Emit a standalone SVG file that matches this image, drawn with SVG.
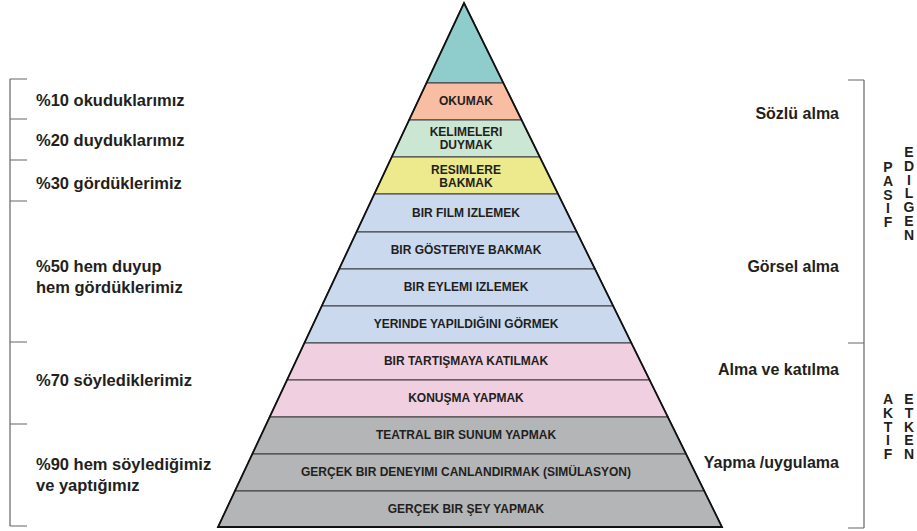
<svg xmlns="http://www.w3.org/2000/svg" width="917" height="531" viewBox="0 0 917 531">
  <style>
    text { font-family: "Liberation Sans", Arial, sans-serif; font-weight: bold; fill: #231f20; }
    .lvl { stroke: #3a3a3a; stroke-width: 1.2; }
    .in { font-size: 12px; text-anchor: middle; }
    .side { font-size: 16.5px; }
    .right { font-size: 16px; text-anchor: end; }
    .vert { font-size: 14px; writing-mode: vertical-rl; text-orientation: upright; letter-spacing: -2.2px; }
    .brk { stroke: #666; stroke-width: 1.2; fill: none; }
  </style>

  <!-- pyramid levels, top to bottom -->
  <g id="apex"><polygon class="lvl" fill="#8ecdcb" points="464,3 503.4,83 426.4,83"/></g>
  <g id="okumak">
    <polygon class="lvl" fill="#f9bda4" points="426.4,83 503.4,83 521.6,120 409.1,120"/>
    <text class="in" x="466" y="105">OKUMAK</text>
  </g>
  <g id="kelimeleri-duymak">
    <polygon class="lvl" fill="#cce6d4" points="409.1,120 521.6,120 539.8,157 391.7,157"/>
    <text class="in" x="466" y="136">KELIMELERI</text>
    <text class="in" x="466" y="149">DUYMAK</text>
  </g>
  <g id="resimlere-bakmak">
    <polygon class="lvl" fill="#ecea8c" points="391.7,157 539.8,157 558.1,194 374.3,194"/>
    <text class="in" x="466" y="174">RESIMLERE</text>
    <text class="in" x="466" y="187">BAKMAK</text>
  </g>
  <g id="film-izlemek">
    <polygon class="lvl" fill="#cad9ee" points="374.3,194 558.1,194 576.8,232 356.5,232"/>
    <text class="in" x="466" y="217">BIR FILM IZLEMEK</text>
  </g>
  <g id="gosteriye-bakmak">
    <polygon class="lvl" fill="#cad9ee" points="356.5,232 576.8,232 595,269 339.1,269"/>
    <text class="in" x="466" y="254">BIR GÖSTERIYE BAKMAK</text>
  </g>
  <g id="eylemi-izlemek">
    <polygon class="lvl" fill="#cad9ee" points="339.1,269 595,269 613.2,306 321.7,306"/>
    <text class="in" x="466" y="291">BIR EYLEMI IZLEMEK</text>
  </g>
  <g id="yerinde-gormek">
    <polygon class="lvl" fill="#cad9ee" points="321.7,306 613.2,306 631.4,343 304.4,343"/>
    <text class="in" x="466" y="328">YERINDE YAPILDIĞINI GÖRMEK</text>
  </g>
  <g id="tartismaya-katilmak">
    <polygon class="lvl" fill="#f0cfe1" points="304.4,343 631.4,343 649.6,380 287,380"/>
    <text class="in" x="466" y="365">BIR TARTIŞMAYA KATILMAK</text>
  </g>
  <g id="konusma-yapmak">
    <polygon class="lvl" fill="#f0cfe1" points="287,380 649.6,380 667.9,417 269.6,417"/>
    <text class="in" x="466" y="402">KONUŞMA YAPMAK</text>
  </g>
  <g id="teatral-sunum">
    <polygon class="lvl" fill="#b3b5b7" points="269.6,417 667.9,417 686.1,454 252.3,454"/>
    <text class="in" x="466" y="439">TEATRAL BIR SUNUM YAPMAK</text>
  </g>
  <g id="simulasyon">
    <polygon class="lvl" fill="#b3b5b7" points="252.3,454 686.1,454 704.3,491 234.9,491"/>
    <text class="in" x="466" y="476">GERÇEK BIR DENEYIMI CANLANDIRMAK (SIMÜLASYON)</text>
  </g>
  <g id="sey-yapmak">
    <polygon class="lvl" fill="#b3b5b7" points="234.9,491 704.3,491 722,527 218,527"/>
    <text class="in" x="466" y="513">GERÇEK BIR ŞEY YAPMAK</text>
  </g>
  <!-- outer outline -->
  <path d="M464,3 L722,527 L218,527 Z" fill="none" stroke="#111" stroke-width="1.8" stroke-linejoin="miter"/>

  <!-- brackets -->
  <g id="connectors">
    <path class="brk" d="M10,79 V526 M10,79 H27 M10,119 H27 M10,160 H27 M10,201 H27 M10,342 H27 M10,424 H27 M10,526 H27"/>
    <path class="brk" d="M864,80 V528 M848,80 H864 M848,343 H864 M848,528 H864"/>
  </g>

  <!-- left labels -->
  <g id="left-labels">
    <text class="side" x="36" y="106">%10 okuduklarımız</text>
    <text class="side" x="36" y="146">%20 duyduklarımız</text>
    <text class="side" x="36" y="189">%30 gördüklerimiz</text>
    <text class="side" x="36" y="272">%50 hem duyup</text>
    <text class="side" x="36" y="293">hem gördüklerimiz</text>
    <text class="side" x="36" y="386">%70 söylediklerimiz</text>
    <text class="side" x="36" y="470">%90 hem söylediğimiz</text>
    <text class="side" x="36" y="491">ve yaptığımız</text>
  </g>

  <!-- right labels -->
  <g id="right-labels">
    <text class="right" x="839" y="119">Sözlü alma</text>
    <text class="right" x="839" y="272">Görsel alma</text>
    <text class="right" x="839" y="375">Alma ve katılma</text>
    <text class="right" x="839" y="468">Yapma /uygulama</text>
  </g>

  <!-- vertical words, set top to bottom -->
  <g id="pasif-edilgen">
    <text class="vert" x="888" y="159">PASIF</text>
    <text class="vert" x="909" y="144">EDILGEN</text>
  </g>
  <g id="aktif-etken">
    <text class="vert" x="888" y="391">AKTIF</text>
    <text class="vert" x="909" y="391">ETKEN</text>
  </g>
</svg>
